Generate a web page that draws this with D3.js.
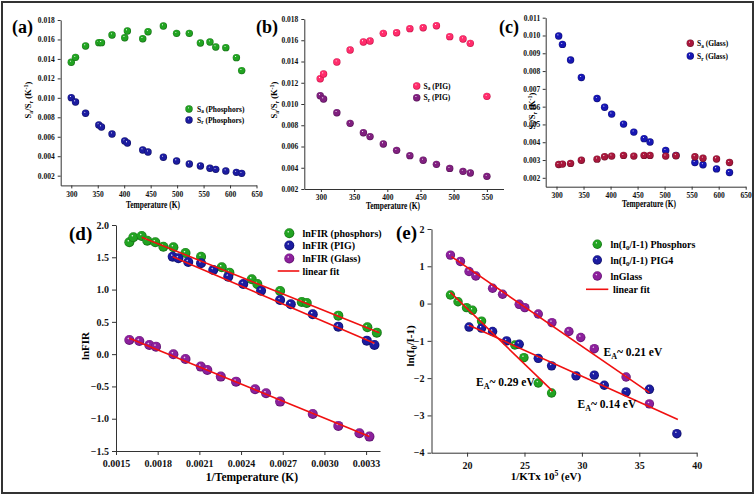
<!DOCTYPE html>
<html><head><meta charset="utf-8">
<script src="https://cdn.jsdelivr.net/npm/d3@7"></script>
<style>body{margin:0;background:#fff}svg{display:block}</style>
</head><body>
<script>
// ---------- DATA ----------
// (a) Phosphors
const aTemp = [300,308,327,352,357,377,401,406,435,445,474,499,523,544,562,573,592,612,622];
const aSa = [0.01365,0.01416,0.01533,0.01567,0.01567,0.01646,0.01618,0.01687,0.01608,0.0168,0.01738,0.01663,0.01663,0.01564,0.01574,0.01523,0.01516,0.01413,0.0128];
const aSr = [0.01002,0.00957,0.00841,0.00721,0.0070,0.00628,0.00556,0.00536,0.00464,0.00443,0.00389,0.00351,0.0032,0.003,0.00276,0.00265,0.00248,0.00234,0.00224];
// (b) PIG
const bTemp = [299,304,324,344,364,374,394,414,434,454,474,494,514,525,550];
const bSa = [0.01238,0.01282,0.01395,0.01508,0.01584,0.01593,0.01665,0.01671,0.01709,0.01718,0.01737,0.01634,0.01612,0.01571,0.01072];
const bSr = [0.01078,0.01047,0.00918,0.00818,0.0073,0.00693,0.00624,0.00564,0.00514,0.0047,0.00432,0.00394,0.00366,0.0035,0.00319];
// (c) Glass
const cTemp = [304,311,326,346,375,389,402,424,443,462,473,502,521,556,571,596,620];
const cSa = [0.00275,0.00277,0.00281,0.00299,0.00305,0.00318,0.00322,0.00326,0.00322,0.00326,0.00326,0.00322,0.00324,0.00318,0.0031,0.00306,0.00286];
const cSr = [0.00997,0.0095,0.00862,0.00764,0.00646,0.00597,0.00558,0.00502,0.00457,0.0042,0.00401,0.00354,0.00326,0.00286,0.00273,0.0025,0.0023];
// (d) lnFIR vs 1/T
const dPhosX = [0.001596,0.001625,0.001685,0.001725,0.001783,0.001841,0.001913,0.002000,0.002112,0.002261,0.002316,0.002477,0.002517,0.002681,0.002837,0.002873,0.003100,0.003309,0.003377];
const dPhosY = [1.732,1.810,1.830,1.757,1.732,1.664,1.655,1.565,1.509,1.345,1.262,1.159,1.087,0.978,0.808,0.793,0.596,0.416,0.333];
const dPigX = [0.001908,0.001949,0.002020,0.002112,0.002200,0.002308,0.002416,0.002544,0.002681,0.002758,0.002916,0.003100,0.003305,0.003360];
const dPigY = [1.509,1.485,1.427,1.407,1.303,1.200,1.087,0.983,0.839,0.772,0.618,0.426,0.209,0.142];
const dGlassX = [0.001596,0.001668,0.001740,0.001788,0.001913,0.002000,0.002110,0.002157,0.002254,0.002364,0.002501,0.002580,0.002681,0.002916,0.003100,0.003252,0.003324];
const dGlassY = [0.220,0.204,0.142,0.116,-0.002,-0.074,-0.193,-0.245,-0.348,-0.426,-0.543,-0.605,-0.735,-0.926,-1.111,-1.224,-1.277];
const dFitPhos = [[0.001685,1.81],[0.003396,0.333]];
const dFitPig = [[0.001908,1.51],[0.00336,0.169]];
const dFitGlass = [[0.001596,0.246],[0.003324,-1.277]];
// (e) ln(I0/I-1) vs 1/kT
const ePhosX = [18.55,19.21,19.95,20.47,21.26,24.16,24.95,26.20,27.36];
const ePhosY = [0.23,0.05,-0.11,-0.18,-0.47,-1.11,-1.45,-2.13,-2.40];
const ePigX = [20.17,21.26,22.22,23.44,24.54,26.20,27.36,29.49,31.08,31.95,33.85,35.88,38.27];
const ePigY = [-0.63,-0.66,-0.75,-1.00,-1.09,-1.47,-1.67,-1.94,-1.92,-2.19,-2.37,-2.30,-3.49];
const eGlassX = [18.55,19.42,20.17,20.76,22.22,23.09,24.54,25.03,26.20,27.39,28.87,29.90,31.08,33.85,35.88];
const eGlassY = [1.30,1.13,0.86,0.74,0.41,0.25,-0.02,-0.11,-0.28,-0.51,-0.75,-0.91,-1.21,-1.97,-2.69];
const eFitGlass = [[18.64,1.26],[35.88,-2.39]];
const eFitPig = [[20.17,-0.58],[38.36,-3.11]];
const eFitPhos = [[18.55,0.30],[27.45,-2.35]];
// tick labels
const tTicks = [300,350,400,450,500,550,600,650];
const tTicksB = [300,350,400,450,500,550];
const sTicksAB = [0.002,0.004,0.006,0.008,0.010,0.012,0.014,0.016,0.018];
const sTicksC = [0.002,0.003,0.004,0.005,0.006,0.007,0.008,0.009,0.010,0.011];
const dXTicks = [0.0015,0.0018,0.0021,0.0024,0.0027,0.0030,0.0033];
const dYTicks = [-1.5,-1.0,-0.5,0.0,0.5,1.0,1.5,2.0];
const eXTicks = [20,25,30,35,40];
const eYTicks = [-4,-3,-2,-1,0,1,2];

// ---------- DRAW ----------
const W=756,H=496;
const FONT='"Liberation Serif","Times New Roman",serif';
const svg=d3.select('body').append('svg').attr('width',W).attr('height',H)
  .style('font-family',FONT).style('font-weight','bold');
const defs=svg.append('defs');
function grad(id,base,dark){
  const g=defs.append('radialGradient').attr('id',id).attr('cx','50%').attr('cy','50%').attr('r','55%').attr('fx','38%').attr('fy','32%');
  g.append('stop').attr('offset','0%').attr('stop-color','#ffffff');
  g.append('stop').attr('offset','22%').attr('stop-color',base);
  g.append('stop').attr('offset','70%').attr('stop-color',base);
  g.append('stop').attr('offset','100%').attr('stop-color',dark);
  return `url(#${id})`;
}
const C={
  green:grad('gGreen','#22a322','#0b5a0b'),
  navy:grad('gNavy','#1c1ca0','#08084e'),
  purple:grad('gPurple','#8c209c','#4a0a58'),
  pink:grad('gPink','#ff2d6c','#b80036'),
  plum:grad('gPlum','#80207f','#460846'),
  maroon:grad('gMaroon','#a8173c','#5c0a1f'),
  blue:grad('gBlue','#1717b4','#070760')
};

svg.append('rect').attr('x',2).attr('y',2).attr('width',751).attr('height',491)
  .attr('fill','none').attr('stroke','#333').attr('stroke-width',2);

function rich(sel,parts,fs){
  parts.forEach(p=>{
    const [s,t]=p;
    const ts=sel.append('tspan').text(s);
    if(t==='sub'){ts.attr('font-size',fs*0.7).attr('dy',fs*0.25);}
    else if(t==='sup'){ts.attr('font-size',fs*0.7).attr('dy',-fs*0.4);}
    else if(t==='back'){ts.attr('dy',-fs*0.25);}
    else if(t==='down'){ts.attr('dy',fs*0.4);}
  });
}

function panel(o){
  const x=d3.scaleLinear().domain(o.xd).range(o.xr);
  const y=d3.scaleLinear().domain(o.yd).range(o.yr);
  const gx=svg.append('g').attr('transform',`translate(0,${o.yr[0]})`)
    .call(d3.axisBottom(x).tickValues(o.xt).tickFormat(o.xf).tickSize(o.ts).tickPadding(o.tp).tickSizeOuter(0));
  const gy=svg.append('g').attr('transform',`translate(${o.xr[0]},0)`)
    .call(d3.axisLeft(y).tickValues(o.yt).tickFormat(o.yf).tickSize(o.ts).tickPadding(o.tpy||o.tp).tickSizeOuter(0));
  [gx,gy].forEach(g=>{
    g.selectAll('text').attr('font-size',o.fs).attr('font-family',FONT).attr('font-weight','bold').attr('fill','#111');
    g.selectAll('line').attr('stroke','#333');
    g.select('.domain').attr('stroke','#333').attr('stroke-width',1);
  });
  return {x,y};
}
function dots(p,xs,ys,fill,r){
  svg.append('g').selectAll('circle').data(xs.map((v,i)=>[v,ys[i]])).join('circle')
    .attr('cx',d=>p.x(d[0])).attr('cy',d=>p.y(d[1])).attr('r',r).attr('fill',fill);
}
function fit(p,pts){
  svg.append('path').attr('d',d3.line().x(d=>p.x(d[0])).y(d=>p.y(d[1]))(pts))
    .attr('stroke','#f01010').attr('stroke-width',1.6).attr('fill','none');
}
function label(txt,x,y,fs){
  svg.append('text').attr('x',x).attr('y',y).attr('font-size',fs).text(txt);
}

// ---- (a)
const pa=panel({xd:[280,650],xr:[60.7,256.5],yd:[0.001,0.018],yr:[185.4,20],xt:tTicks,yt:sTicksAB,
  xf:d3.format('d'),yf:d3.format('.3f'),ts:3,tp:3,fs:7.5});
dots(pa,aTemp,aSa,C.green,3.7);
dots(pa,aTemp,aSr,C.navy,3.7);
label('(a)',12,33,18);
svg.append('text').attr('x',153).attr('y',207.5).attr('font-size',9.5).attr('text-anchor','middle').attr('textLength',54).attr('lengthAdjust','spacingAndGlyphs').text('Temperature (K)');
rich(svg.append('text').attr('transform','translate(31,100) rotate(-90)').attr('text-anchor','middle').attr('font-size',8.5),
  [['S'],['a','sub'],['/S','back'],['r','sub'],[' (K','back'],['-1','sup'],[')','down']],8.5);
// legend a
svg.append('circle').attr('cx',189).attr('cy',109).attr('r',3.7).attr('fill',C.green);
svg.append('circle').attr('cx',189).attr('cy',120).attr('r',3.7).attr('fill',C.navy);
rich(svg.append('text').attr('x',197).attr('y',111.5).attr('font-size',7.5),[['S'],['a','sub'],[' (Phosphors)','back']],7.5);
rich(svg.append('text').attr('x',197).attr('y',122.5).attr('font-size',7.5),[['S'],['r','sub'],[' (Phosphors)','back']],7.5);

// ---- (b)
const pb=panel({xd:[275,575],xr:[304.3,503.5],yd:[0.002,0.018],yr:[189,19],xt:tTicksB,yt:sTicksAB,
  xf:d3.format('d'),yf:d3.format('.3f'),ts:3,tp:3,fs:7.5});
dots(pb,bTemp,bSa,C.pink,3.7);
dots(pb,bTemp,bSr,C.plum,3.7);
label('(b)',256,33,18);
svg.append('text').attr('x',393).attr('y',209).attr('font-size',9.5).attr('text-anchor','middle').attr('textLength',54).attr('lengthAdjust','spacingAndGlyphs').text('Temperature (K)');
rich(svg.append('text').attr('transform','translate(277,100) rotate(-90)').attr('text-anchor','middle').attr('font-size',8.5),
  [['S'],['a','sub'],['/S','back'],['r','sub'],[' (K','back'],['-1','sup'],[')','down']],8.5);
svg.append('circle').attr('cx',416.7).attr('cy',86).attr('r',3.7).attr('fill',C.pink);
svg.append('circle').attr('cx',416.7).attr('cy',97.7).attr('r',3.7).attr('fill',C.plum);
rich(svg.append('text').attr('x',423.5).attr('y',88.5).attr('font-size',7.5),[['S'],['a','sub'],[' (PIG)','back']],7.5);
rich(svg.append('text').attr('x',423.5).attr('y',100.2).attr('font-size',7.5),[['S'],['r','sub'],[' (PIG)','back']],7.5);

// ---- (c)
const pc=panel({xd:[280,650],xr:[545.7,745.7],yd:[0.0015,0.011],yr:[186.7,17.7],xt:tTicks,yt:sTicksC,
  xf:d3.format('d'),yf:d3.format('.3f'),ts:3,tp:2.5,fs:7.5});
dots(pc,cTemp,cSr,C.blue,3.7);
dots(pc,cTemp,cSa,C.maroon,3.7);
label('(c)',499,33,18);
svg.append('text').attr('x',649).attr('y',207).attr('font-size',9.5).attr('text-anchor','middle').attr('textLength',54).attr('lengthAdjust','spacingAndGlyphs').text('Temperature (K)');
rich(svg.append('text').attr('transform','translate(535,111) rotate(-90)').attr('text-anchor','middle').attr('font-size',8.5),
  [['S'],['a','sub'],['/S','back'],['r','sub'],[' (K','back'],['-1','sup'],[')','down']],8.5);
svg.append('circle').attr('cx',690.3).attr('cy',43.3).attr('r',3.7).attr('fill',C.maroon);
svg.append('circle').attr('cx',690.3).attr('cy',56).attr('r',3.7).attr('fill',C.blue);
rich(svg.append('text').attr('x',697).attr('y',46).attr('font-size',7.5),[['S'],['a','sub'],[' (Glass)','back']],7.5);
rich(svg.append('text').attr('x',697).attr('y',58.7).attr('font-size',7.5),[['S'],['r','sub'],[' (Glass)','back']],7.5);

// ---- (d)
const pd=panel({xd:[0.0015,0.0034],xr:[116,380],yd:[-1.5,2],yr:[451,225],xt:dXTicks,yt:dYTicks,
  xf:d3.format('.4f'),yf:d3.format('.1f'),ts:4,tp:5,tpy:3,fs:10});
dots(pd,dPhosX,dPhosY,C.green,5);
dots(pd,dPigX,dPigY,C.navy,5);
dots(pd,dGlassX,dGlassY,C.purple,5);
fit(pd,dFitPhos); fit(pd,dFitPig); fit(pd,dFitGlass);
label('(d)',69,240,19);
svg.append('text').attr('x',252).attr('y',481).attr('font-size',11.5).attr('text-anchor','middle').text('1/Temperature (K)');
svg.append('text').attr('transform','translate(89,346) rotate(-90)').attr('text-anchor','middle').attr('font-size',11).text('lnFIR');
const dLeg=[['lnFIR (phosphors)',C.green,233.3],['lnFIR (PIG)',C.navy,245.5],['lnFIR (Glass)',C.purple,258.5]];
dLeg.forEach(l=>{
  svg.append('circle').attr('cx',289.3).attr('cy',l[2]).attr('r',5).attr('fill',l[1]);
  svg.append('text').attr('x',302.5).attr('y',l[2]+3.5).attr('font-size',10).text(l[0]);
});
svg.append('line').attr('x1',277.7).attr('x2',299.3).attr('y1',271).attr('y2',271).attr('stroke','#f01010').attr('stroke-width',1.6);
svg.append('text').attr('x',302.5).attr('y',274.5).attr('font-size',10).text('linear fit');

// ---- (e)
const pe=panel({xd:[16.9,40],xr:[431.5,696.7],yd:[-4,2],yr:[452.7,229],xt:eXTicks,yt:eYTicks,
  xf:d3.format('d'),yf:d3.format('d'),ts:4,tp:5,tpy:3,fs:10});
dots(pe,eGlassX,eGlassY,C.purple,4.7);
dots(pe,ePhosX,ePhosY,C.green,4.7);
dots(pe,ePigX,ePigY,C.navy,4.7);
fit(pe,eFitGlass); fit(pe,eFitPig); fit(pe,eFitPhos);
label('(e)',396,239,19);
rich(svg.append('text').attr('x',546).attr('y',480).attr('font-size',11).attr('text-anchor','middle'),
  [['1/KTx 10'],['5','sup'],[' (eV)','down']],11);
rich(svg.append('text').attr('transform','translate(414,346) rotate(-90)').attr('text-anchor','middle').attr('font-size',11),
  [['ln(I'],['0','sub'],['/I-1)','back']],11);
const eLeg=[[C.green,244.3,[['ln(I'],['0','sub'],['/I-1) Phosphors','back']]],
            [C.navy,260,[['ln(I'],['0','sub'],['/I-1) PIG4','back']]],
            [C.purple,276,[['lnGlass']]]];
eLeg.forEach(l=>{
  svg.append('circle').attr('cx',597.3).attr('cy',l[1]).attr('r',4.7).attr('fill',l[0]);
  rich(svg.append('text').attr('x',610.5).attr('y',l[1]+3.5).attr('font-size',10),l[2],10);
});
svg.append('line').attr('x1',586).attr('x2',608.3).attr('y1',289.3).attr('y2',289.3).attr('stroke','#f01010').attr('stroke-width',1.6);
svg.append('text').attr('x',613).attr('y',293).attr('font-size',10).text('linear fit');
const eAnn=[[603.5,356,'0.21'],[476,386,'0.29'],[577.5,408,'0.14']];
eAnn.forEach(a=>{
  rich(svg.append('text').attr('x',a[0]).attr('y',a[1]).attr('font-size',11.5),
    [['E'],['A','sub'],['~ '+a[2]+' eV','back']],11.5);
});
</script>
</body></html>
